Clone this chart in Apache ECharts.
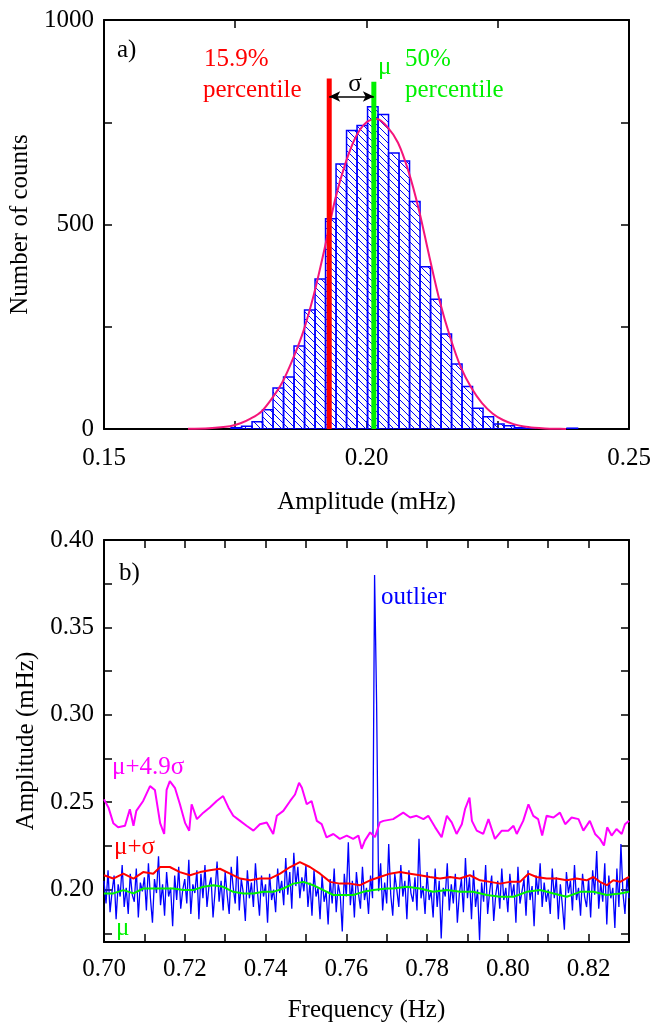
<!DOCTYPE html>
<html><head><meta charset="utf-8">
<script src="https://cdn.jsdelivr.net/npm/echarts@6/dist/echarts.min.js"></script>
<style>html,body{margin:0;padding:0;background:#fff}#c{width:667px;height:1024px}</style>
</head><body><div id="c"></div>
<script>
// ---------- Panel a) histogram ----------
const BIN_WIDTH = 0.002;
const BIN_CENTERS = [0.1752,0.1772,0.1792,0.1812,0.1832,0.1852,0.1872,0.1892,0.1912,0.1932,0.1952,0.1972,0.1992,0.2012,0.2032,0.2052,0.2072,0.2092,0.2112,0.2132,0.2152,0.2172,0.2192,0.2212,0.2232,0.2252,0.2272,0.2292,0.2312,0.2392];
const BIN_COUNTS  = [3,7,18,47,100,127,203,291,367,514,648,730,742,788,769,675,655,556,397,317,232,159,104,51,30,12,8,3,1,2];
const FIT_X = [0.166,0.170,0.174,0.176,0.178,0.180,0.182,0.184,0.186,0.188,0.190,0.192,0.194,0.196,0.198,0.200,0.202,0.204,0.206,0.208,0.210,0.212,0.214,0.216,0.218,0.220,0.222,0.224,0.226,0.228,0.230,0.232,0.234,0.236,0.238];
const FIT_Y = [0.5,2,7,14,26,43,75,115,172,240,330,440,560,650,715,750,758,738,700,630,535,420,310,222,150,100,63,38,22,12,6,3,1.4,0.6,0.3];
const P15_9 = 0.1929, P15_9_TOP = 857;
const P50 = 0.2014, P50_TOP = 849;
const SIGMA_ARROW_Y = 813;
const HIST_X_TICKS = [0.15,0.175,0.20,0.225,0.25];
const HIST_X_LABELS = [0.15,0.20,0.25];
const HIST_Y_TICKS = [0,250,500,750,1000];
const HIST_Y_LABELS = [0,500,1000];

// ---------- Panel b) spectrum ----------
const FREQ_START = 0.700, FREQ_STEP = 0.0005;
const SPECTRUM = [
0.205,0.192,0.211,0.187,0.199,0.208,0.183,0.203,0.196,0.214,0.190,0.201,0.186,0.209,0.197,0.193,0.212,0.184,0.204,0.199,
0.207,0.188,0.215,0.195,0.181,0.206,0.198,0.219,0.191,0.203,0.185,0.210,0.196,0.201,0.179,0.208,0.194,0.213,0.189,0.200,
0.206,0.192,0.217,0.186,0.203,0.198,0.211,0.183,0.209,0.195,0.214,0.190,0.202,0.207,0.184,0.199,0.216,0.193,0.205,0.188,
0.210,0.197,0.186,0.213,0.201,0.192,0.219,0.188,0.206,0.198,0.182,0.211,0.195,0.204,0.190,0.215,0.199,0.185,0.208,0.196,
0.203,0.181,0.209,0.194,0.200,0.187,0.212,0.198,0.205,0.191,0.218,0.197,0.210,0.189,0.221,0.202,0.213,0.195,0.207,0.199,
0.214,0.190,0.204,0.185,0.211,0.196,0.201,0.183,0.208,0.193,0.199,0.180,0.206,0.192,0.212,0.187,0.203,0.197,0.176,0.209,
0.196,0.227,0.191,0.205,0.184,0.210,0.198,0.189,0.213,0.194,0.201,0.186,0.208,0.195,0.380,0.307,0.199,0.215,0.188,0.204,
0.192,0.226,0.197,0.185,0.209,0.200,0.190,0.214,0.196,0.205,0.183,0.211,0.198,0.193,0.207,0.188,0.229,0.195,0.202,0.186,
0.210,0.194,0.199,0.184,0.212,0.190,0.205,0.172,0.201,0.196,0.215,0.188,0.203,0.192,0.209,0.181,0.198,0.206,0.187,0.218,
0.195,0.207,0.183,0.211,0.190,0.200,0.171,0.204,0.193,0.214,0.186,0.199,0.208,0.182,0.197,0.205,0.189,0.212,0.194,0.201,
0.187,0.209,0.196,0.203,0.181,0.213,0.192,0.199,0.206,0.185,0.211,0.194,0.202,0.179,0.208,0.197,0.215,0.190,0.204,0.193,
0.200,0.186,0.212,0.195,0.207,0.183,0.203,0.191,0.177,0.210,0.198,0.205,0.188,0.214,0.194,0.201,0.185,0.209,0.196,0.190,
0.206,0.184,0.211,0.197,0.222,0.189,0.204,0.193,0.215,0.180,0.208,0.195,0.201,0.178,0.212,0.190,0.226,0.198,0.186,0.207,0.195];
const MU49_X = [0.7000,0.7011,0.7023,0.7035,0.7052,0.7064,0.7073,0.7080,0.7097,0.7114,0.7126,0.7139,0.7149,0.7155,0.7163,0.7176,0.7188,0.7201,0.7211,0.7217,0.7230,0.7246,0.7262,0.7279,0.7295,0.7308,0.7320,0.7337,0.7353,0.7370,0.7386,0.7403,0.7419,0.7428,0.7444,0.7461,0.7473,0.7483,0.7490,0.7502,0.7514,0.7527,0.7539,0.7551,0.7568,0.7584,0.7601,0.7617,0.7630,0.7638,0.7646,0.7659,0.7671,0.7683,0.7692,0.7716,0.7741,0.7758,0.7774,0.7791,0.7803,0.7820,0.7836,0.7849,0.7861,0.7873,0.7886,0.7894,0.7905,0.7911,0.7923,0.7939,0.7952,0.7968,0.7985,0.8001,0.8014,0.8022,0.8038,0.8051,0.8063,0.8075,0.8085,0.8096,0.8113,0.8129,0.8142,0.8158,0.8175,0.8187,0.8203,0.8216,0.8228,0.8238,0.8246,0.8257,0.8269,0.8282,0.8290,0.8300];
const MU49_Y = [0.2516,0.2470,0.2380,0.2356,0.2365,0.2460,0.2365,0.2450,0.2507,0.2592,0.2570,0.2380,0.2318,0.2570,0.2620,0.2580,0.2488,0.2380,0.2337,0.2488,0.2403,0.2440,0.2470,0.2507,0.2535,0.2470,0.2422,0.2393,0.2365,0.2337,0.2374,0.2384,0.2318,0.2422,0.2450,0.2507,0.2544,0.2611,0.2582,0.2488,0.2507,0.2393,0.2374,0.2299,0.2318,0.2290,0.2309,0.2290,0.2309,0.2233,0.2280,0.2327,0.2300,0.2384,0.2393,0.2403,0.2440,0.2412,0.2422,0.2403,0.2422,0.2356,0.2299,0.2422,0.2384,0.2318,0.2374,0.2460,0.2526,0.2393,0.2337,0.2318,0.2403,0.2290,0.2337,0.2337,0.2365,0.2318,0.2393,0.2488,0.2422,0.2403,0.2309,0.2422,0.2412,0.2440,0.2374,0.2412,0.2403,0.2337,0.2393,0.2318,0.2290,0.2252,0.2356,0.2309,0.2346,0.2318,0.2374,0.2393];
const MU1_X = [0.7000,0.7023,0.7048,0.7073,0.7097,0.7122,0.7139,0.7163,0.7188,0.7213,0.7238,0.7262,0.7287,0.7312,0.7337,0.7362,0.7386,0.7411,0.7436,0.7461,0.7485,0.7510,0.7535,0.7560,0.7584,0.7609,0.7634,0.7659,0.7683,0.7708,0.7733,0.7758,0.7782,0.7807,0.7832,0.7857,0.7881,0.7906,0.7931,0.7956,0.7981,0.8005,0.8030,0.8051,0.8071,0.8096,0.8121,0.8146,0.8170,0.8195,0.8212,0.8228,0.8245,0.8261,0.8278,0.8300];
const MU1_Y = [0.2082,0.2063,0.2091,0.2063,0.2100,0.2091,0.2129,0.2129,0.2100,0.2082,0.2100,0.2110,0.2119,0.2091,0.2063,0.2053,0.2063,0.2063,0.2091,0.2129,0.2157,0.2129,0.2091,0.2044,0.2034,0.2034,0.2025,0.2053,0.2072,0.2091,0.2100,0.2091,0.2082,0.2072,0.2063,0.2072,0.2063,0.2082,0.2053,0.2044,0.2034,0.2044,0.2044,0.2091,0.2072,0.2063,0.2063,0.2053,0.2063,0.2053,0.2072,0.2044,0.2025,0.2053,0.2044,0.2072];
const MU_X = [0.7000,0.7023,0.7048,0.7073,0.7097,0.7122,0.7147,0.7172,0.7196,0.7221,0.7246,0.7271,0.7295,0.7320,0.7345,0.7370,0.7395,0.7419,0.7444,0.7469,0.7494,0.7518,0.7543,0.7568,0.7593,0.7617,0.7642,0.7667,0.7700,0.7716,0.7750,0.7782,0.7815,0.7849,0.7882,0.7914,0.7948,0.7981,0.8014,0.8047,0.8080,0.8113,0.8146,0.8179,0.8212,0.8245,0.8278,0.8300];
const MU_Y = [0.1978,0.1978,0.1997,0.1978,0.2006,0.2006,0.2006,0.2006,0.1997,0.1997,0.2016,0.2025,0.2016,0.1987,0.1978,0.1978,0.1987,0.1987,0.2006,0.2034,0.2044,0.2025,0.1997,0.1969,0.1969,0.1969,0.1987,0.1997,0.2006,0.2006,0.2016,0.2006,0.1987,0.1997,0.1987,0.1987,0.1969,0.1959,0.1959,0.1987,0.1997,0.1978,0.1959,0.1987,0.1987,0.1969,0.1978,0.1987];
const SPEC_X_TICKS = [0.70,0.71,0.72,0.73,0.74,0.75,0.76,0.77,0.78,0.79,0.80,0.81,0.82,0.83];
const SPEC_X_LABELS = [0.70,0.72,0.74,0.76,0.78,0.80,0.82];
const SPEC_Y_TICKS = [0.175,0.20,0.225,0.25,0.275,0.30,0.325,0.35,0.375,0.40];
const SPEC_Y_LABELS = [0.20,0.25,0.30,0.35,0.40];

// ---------- styling helpers ----------
const FONT = 'Liberation Serif';
const FS = 25;
function hatch(){
  const s=7, c=document.createElement('canvas'); c.width=s; c.height=s;
  const g=c.getContext('2d'); g.strokeStyle='#0000ff'; g.lineWidth=1;
  g.beginPath(); g.moveTo(-1,-1); g.lineTo(s+1,s+1);
  g.moveTo(s-1,-1); g.lineTo(s+1,1); g.moveTo(-1,s-1); g.lineTo(1,s+1); g.stroke();
  return c;
}
const HATCH = {image: hatch(), repeat: 'repeat'};

function axis(o){
  return {
    type:'value', gridIndex:o.grid, position:o.pos, min:o.min, max:o.max,
    name:o.name||'', nameLocation:'middle', nameGap:o.nameGap||0,
    nameTextStyle:{fontFamily:FONT, fontSize:FS, color:'#000'},
    axisLine:{show:true, onZero:false, lineStyle:{color:'#000', width:2}},
    axisTick:{show:true, inside:true, length:8, customValues:o.ticks, lineStyle:{color:'#000', width:1.5}},
    axisLabel:{show:!!o.labels, customValues:o.labels, margin:o.margin||10,
      fontFamily:FONT, fontSize:FS, color:'#000', formatter:o.fmt},
    splitLine:{show:false}
  };
}
const f2 = v => v.toFixed(2);
const f0 = v => String(Math.round(v));

function txt(x,y,text,color,align){
  return {type:'text', x:x, y:y, silent:true,
    style:{text:text, fill:color, font:FS+'px "'+FONT+'"', fontFamily:FONT, fontSize:FS,
      textAlign:align||'left', align:align||'left', textVerticalAlign:'middle', verticalAlign:'middle'}};
}

const chart = echarts.init(document.getElementById('c'), null, {renderer:'canvas'});
const option = {
  animation:false,
  backgroundColor:'#fff',
  textStyle:{fontFamily:FONT},
  grid:[
    {left:104, top:20, width:525, height:409},
    {left:104, top:540, width:525, height:406}
  ],
  xAxis:[
    axis({grid:0,pos:'bottom',min:0.15,max:0.25,ticks:HIST_X_TICKS,labels:HIST_X_LABELS,fmt:f2,margin:17,name:'Amplitude (mHz)',nameGap:61}),
    axis({grid:0,pos:'top',min:0.15,max:0.25,ticks:HIST_X_TICKS}),
    axis({grid:1,pos:'bottom',min:0.70,max:0.83,ticks:SPEC_X_TICKS,labels:SPEC_X_LABELS,fmt:f2,margin:15,name:'Frequency (Hz)',nameGap:56}),
    axis({grid:1,pos:'top',min:0.70,max:0.83,ticks:SPEC_X_TICKS})
  ],
  yAxis:[
    axis({grid:0,pos:'left',min:0,max:1000,ticks:HIST_Y_TICKS,labels:HIST_Y_LABELS,fmt:f0,margin:10,name:'Number of counts',nameGap:62}),
    axis({grid:0,pos:'right',min:0,max:1000,ticks:HIST_Y_TICKS}),
    axis({grid:1,pos:'left',min:0.17,max:0.40,ticks:SPEC_Y_TICKS,labels:SPEC_Y_LABELS,fmt:f2,margin:10,name:'Amplitude (mHz)',nameGap:62}),
    axis({grid:1,pos:'right',min:0.17,max:0.40,ticks:SPEC_Y_TICKS})
  ],
  series:[
    {type:'custom', xAxisIndex:0, yAxisIndex:0, clip:true,
      data: BIN_CENTERS.map((c,i)=>[c, BIN_COUNTS[i]]),
      encode:{x:0, y:1},
      renderItem:function(params, api){
        const c=api.value(0), h=api.value(1);
        const p0=api.coord([c-BIN_WIDTH/2, h]);
        const p1=api.coord([c+BIN_WIDTH/2, 0]);
        return {type:'rect', shape:{x:p0[0], y:p0[1], width:p1[0]-p0[0], height:p1[1]-p0[1]},
          style:{fill:HATCH, stroke:'#0000ff', lineWidth:1.5}};
      }
    },
    {type:'line', xAxisIndex:0, yAxisIndex:0, data:FIT_X.map((x,i)=>[x,FIT_Y[i]]),
      smooth:0.3, showSymbol:false, lineStyle:{color:'#f5157a', width:2}},
    {type:'line', xAxisIndex:0, yAxisIndex:0, data:[[P15_9,0],[P15_9,P15_9_TOP]],
      showSymbol:false, lineStyle:{color:'#ff0000', width:5, cap:'butt'},
      markLine:{silent:true, symbol:['arrow','arrow'], symbolSize:[8,11], animation:false,
        lineStyle:{color:'#000', width:1.5, type:'solid'}, label:{show:false},
        data:[[{coord:[P15_9, SIGMA_ARROW_Y]},{coord:[P50, SIGMA_ARROW_Y]}]]}},
    {type:'line', xAxisIndex:0, yAxisIndex:0, data:[[P50,0],[P50,P50_TOP]],
      showSymbol:false, lineStyle:{color:'#00f000', width:5, cap:'butt'}},

    {type:'line', xAxisIndex:2, yAxisIndex:2, data:SPECTRUM.map((v,i)=>[FREQ_START+i*FREQ_STEP, v]),
      showSymbol:false, lineStyle:{color:'#0000ff', width:1.3}},
    {type:'line', xAxisIndex:2, yAxisIndex:2, data:MU49_X.map((x,i)=>[x,MU49_Y[i]]),
      showSymbol:false, lineStyle:{color:'#ff00ff', width:2}},
    {type:'line', xAxisIndex:2, yAxisIndex:2, data:MU1_X.map((x,i)=>[x,MU1_Y[i]]),
      showSymbol:false, lineStyle:{color:'#ff0000', width:2}},
    {type:'line', xAxisIndex:2, yAxisIndex:2, data:MU_X.map((x,i)=>[x,MU_Y[i]]),
      showSymbol:false, lineStyle:{color:'#00f000', width:2}}
  ],
  graphic:[
    txt(117,50,'a)','#000'),
    txt(204,59,'15.9%','#ff0000'),
    txt(203,90,'percentile','#ff0000'),
    txt(355,84,'σ','#000','center'),
    txt(378,67,'μ','#00f000'),
    txt(405,59,'50%','#00f000'),
    txt(405,90,'percentile','#00f000'),
    txt(119,573,'b)','#000'),
    txt(381,597,'outlier','#0000ff'),
    txt(112,767,'μ+4.9σ','#ff00ff'),
    txt(114,847,'μ+σ','#ff0000'),
    txt(116,928,'μ','#00f000')
  ]
};
chart.setOption(option);
</script></body></html>
